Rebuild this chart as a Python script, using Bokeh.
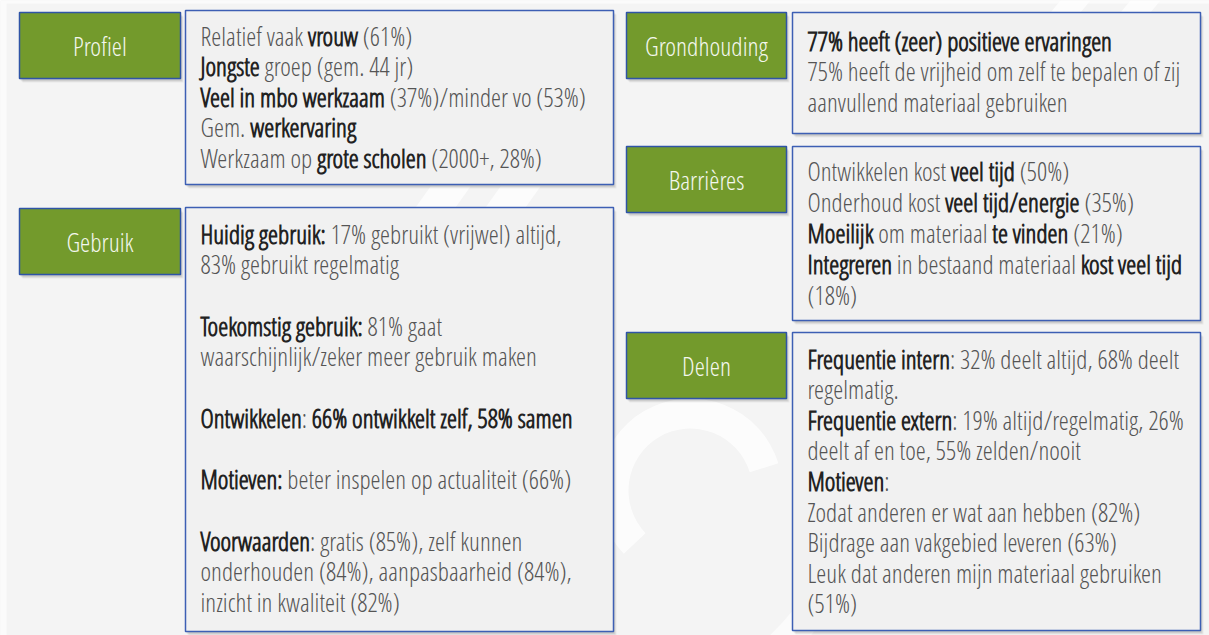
from bokeh.plotting import figure
from bokeh.models import ColumnDataSource, Range1d, CustomJS, CDSView, GroupFilter
from bokeh.core.properties import value
from bokeh.document import Document
from bokeh.embed import file_html
from bokeh.resources import INLINE

FONT = "Open Sans Condensed Light"
R, B = 0, 1

# ---- content (text of the infographic) ----
section_names = ["Profiel", "Gebruik", "Grondhouding", "Barrières", "Delen"]

profiel_lines = [
    [("Relatief vaak ", R), ("vrouw", B), (" (61%)", R)],
    [("Jongste", B), (" groep (gem. 44 jr)", R)],
    [("Veel in mbo werkzaam", B), (" (37%)/minder vo (53%)", R)],
    [("Gem. ", R), ("werkervaring", B)],
    [("Werkzaam op ", R), ("grote scholen", B), (" (2000+, 28%)", R)],
]
gebruik_lines = [
    [("Huidig gebruik:", B), (" 17% gebruikt (vrijwel) altijd,", R)],
    [("83% gebruikt regelmatig", R)],
    [],
    [("Toekomstig gebruik:", B), (" 81% gaat", R)],
    [("waarschijnlijk/zeker meer gebruik maken", R)],
    [],
    [("Ontwikkelen", B), (": ", R), ("66% ontwikkelt zelf, 58% samen", B)],
    [],
    [("Motieven:", B), (" beter inspelen op actualiteit (66%)", R)],
    [],
    [("Voorwaarden", B), (": gratis (85%), zelf kunnen", R)],
    [("onderhouden (84%), aanpasbaarheid (84%),", R)],
    [("inzicht in kwaliteit (82%)", R)],
]
grondhouding_lines = [
    [("77% heeft (zeer) positieve ervaringen", B)],
    [("75% heeft de vrijheid om zelf te bepalen of zij", R)],
    [("aanvullend materiaal gebruiken", R)],
]
barrieres_lines = [
    [("Ontwikkelen kost ", R), ("veel tijd", B), (" (50%)", R)],
    [("Onderhoud kost ", R), ("veel tijd/energie", B), (" (35%)", R)],
    [("Moeilijk", B), (" om materiaal ", R), ("te vinden", B), (" (21%)", R)],
    [("Integreren", B), (" in bestaand materiaal ", R), ("kost veel tijd", B)],
    [("(18%)", R)],
]
delen_lines = [
    [("Frequentie intern", B), (": 32% deelt altijd, 68% deelt", R)],
    [("regelmatig.", R)],
    [("Frequentie extern", B), (": 19% altijd/regelmatig, 26%", R)],
    [("deelt af en toe, 55% zelden/nooit", R)],
    [("Motieven", B), (":", R)],
    [("Zodat anderen er wat aan hebben (82%)", R)],
    [("Bijdrage aan vakgebied leveren (63%)", R)],
    [("Leuk dat anderen mijn materiaal gebruiken", R)],
    [("(51%)", R)],
]
section_lines = [profiel_lines, gebruik_lines, grondhouding_lines,
                 barrieres_lines, delen_lines]

# ---- layout (pixel coordinates on the page) ----
label_left = [19, 19, 626, 626, 626]
label_right = [180, 180, 786, 786, 786]
label_top = [12, 208, 12, 146, 332]
label_bottom = [78, 274, 78, 212, 398]
box_left = [185, 185, 792, 792, 792]
box_right = [613, 613, 1200, 1200, 1200]
box_top = [10, 207, 12, 146, 332]
box_bottom = [184, 631, 133, 320, 630]
text_x0 = [200, 200, 807, 807, 807]
text_y0 = [35, 233, 40, 170, 358]
line_step = [30.5, 30.7, 30.5, 31.0, 30.6]
FS = 25.5
LABEL_FS = 26

# rough fallback advance widths (used only until the browser measures the text)
_w = {' ': 278, '%': 889, '(': 333, ')': 333, ',': 278, '.': 278, '/': 278,
      ':': 278, '+': 584}
for c in '0123456789':
    _w[c] = 556
_w.update(dict(zip("abcdefghijklmnopqrstuvwxyz",
    [556, 556, 500, 556, 556, 278, 556, 556, 222, 222, 500, 222, 833, 556, 556,
     556, 556, 333, 500, 278, 556, 500, 722, 500, 500, 500])))


def approx_width(s):
    return sum(_w.get(c.lower(), 600) for c in s) * 0.727 * FS / 1000.0


seg = dict(text=[], raw=[], weight=[], line=[], y=[], x0=[], x=[])
line_id = 0
for k, lines in enumerate(section_lines):
    for i, line in enumerate(lines):
        y = text_y0[k] + i * line_step[k]
        x = text_x0[k]
        for s, b in line:
            lead = len(s) - len(s.lstrip())
            seg["text"].append(s.strip())
            seg["raw"].append(s)
            seg["weight"].append("bold" if b else "normal")
            seg["line"].append(line_id)
            seg["y"].append(y)
            seg["x0"].append(text_x0[k])
            seg["x"].append(x + approx_width(s[:lead]))
            x += approx_width(s)
        line_id += 1

W, H = 1209, 635
p = figure(width=W, height=H, output_backend="svg", toolbar_location=None,
           x_range=Range1d(0, W), y_range=Range1d(H, 0),
           min_border=0, tools="")
p.axis.visible = False
p.grid.visible = False
p.outline_line_color = None
p.background_fill_color = "#f4f4f4"
p.border_fill_color = "#f4f4f4"

# light page edge at the top and left
p.quad(left=[0, 0], right=[6, W], top=[0, 0], bottom=[H, 3],
       fill_color="#fbfbfb", line_color=None)

# faint white background swooshes (decoration, mostly hidden behind the boxes)
p.annular_wedge(x=[690], y=[490], inner_radius=62, outer_radius=92,
                start_angle=0.3, end_angle=3.9, start_angle_units="rad",
                fill_color="#ffffff", fill_alpha=0.75, line_color=None)
p.annular_wedge(x=[560], y=[420], inner_radius=300, outer_radius=330,
                start_angle=4.3, end_angle=5.6,
                fill_color="#ffffff", fill_alpha=0.6, line_color=None)
p.patches(xs=[[430, 470, 455, 415], [500, 540, 525, 485], [1060, 1090, 1080, 1050],
              [1130, 1160, 1150, 1120]],
          ys=[[186, 186, 207, 207], [186, 186, 207, 207], [0, 0, 12, 12], [0, 0, 12, 12]],
          fill_color="#ffffff", fill_alpha=0.7, line_color=None)

boxes = ColumnDataSource(dict(left=box_left, right=box_right, top=box_top,
                              bottom=box_bottom))
labels = ColumnDataSource(dict(left=label_left, right=label_right, top=label_top,
                               bottom=label_bottom,
                               cx=[(a + b) / 2 for a, b in zip(label_left, label_right)],
                               cy=[(a + b) / 2 for a, b in zip(label_top, label_bottom)],
                               name=section_names))

# soft drop shadows
for L, Rr, T, Bm in ((box_left, box_right, box_top, box_bottom),
                     (label_left, label_right, label_top, label_bottom)):
    for dx, dy, a in ((3, 4, 0.05), (2, 3, 0.07), (1, 2, 0.08)):
        p.quad(left=[v + dx for v in L], right=[v + dx for v in Rr],
               top=[v + dy for v in T], bottom=[v + dy for v in Bm],
               fill_color="#000000", fill_alpha=a, line_color=None)

p.quad(left="left", right="right", top="top", bottom="bottom", source=boxes,
       fill_color="#f1f1f1", line_color="#3d5fb4", line_width=1.5)
p.quad(left="left", right="right", top="top", bottom="bottom", source=labels,
       fill_color="#739a2c", line_color="#2f54a6", line_width=1.5)

p.text(x="cx", y="cy", text="name", source=labels, text_align="center",
       text_baseline="middle", text_color="#f4f7ee", text_font=value(FONT),
       text_font_size=f"{LABEL_FS}px")

seg_src = ColumnDataSource(seg)
p.text(x="x", y="y", text="text", source=seg_src,
       view=CDSView(filter=GroupFilter(column_name="weight", group="normal")),
       text_align="left", text_baseline="middle", text_color="#555555",
       text_font=value(FONT), text_font_size=f"{FS}px")
p.text(x="x", y="y", text="text", source=seg_src,
       view=CDSView(filter=GroupFilter(column_name="weight", group="bold")),
       text_align="left", text_baseline="middle", text_color="#222222",
       text_font=value(FONT), text_font_size=f"{FS}px", text_font_style="bold")

layout_js = CustomJS(args=dict(src=seg_src, font=FONT, fs=FS), code="""
const cv = document.createElement('canvas');
const ctx = cv.getContext('2d');
const d = src.data;
const n = d.raw.length;
const xs = new Array(n);
const cur = {};
for (let i = 0; i < n; i++) {
  const L = d.line[i];
  if (!(L in cur)) cur[L] = d.x0[i];
  ctx.font = (d.weight[i] == "bold" ? "bold " : "") + fs + "px '" + font + "'";
  const raw = d.raw[i];
  const lead = raw.length - raw.replace(/^\\s+/, '').length;
  xs[i] = cur[L] + ctx.measureText(raw.slice(0, lead)).width;
  cur[L] += ctx.measureText(raw).width;
}
src.data = Object.assign({}, d, {x: xs});
""")

doc = Document()
doc.add_root(p)
doc.js_on_event("document_ready", layout_js)
open("out.html", "w").write(file_html(p, INLINE))
